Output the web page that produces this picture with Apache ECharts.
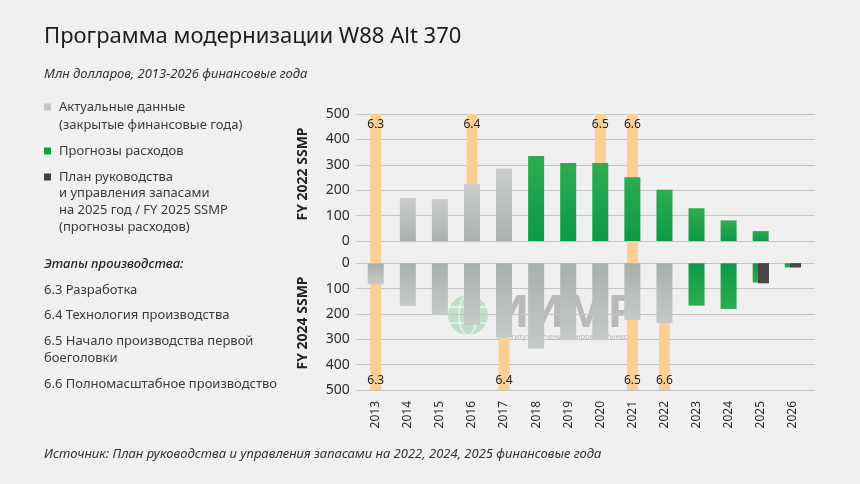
<!DOCTYPE html>
<html><head><meta charset="utf-8">
<script src="https://cdn.jsdelivr.net/npm/echarts@6/dist/echarts.min.js"></script>
<style>html,body{margin:0;padding:0;background:#f0f0f0}#c{width:860px;height:484px}</style>
</head><body><div id="c"></div>
<script>
// ---------- data ----------
const years = ['2013','2014','2015','2016','2017','2018','2019','2020','2021','2022','2023','2024','2025','2026'];
// FY 2022 SSMP (upper panel)
const fy22Actual   = [null,170,165,223,285,null,null,null,null,null,null,null,null,null];
const fy22Forecast = [null,null,null,null,null,335,307,307,251,202,129,81,39,null];
// FY 2024 SSMP (lower panel)
const fy24Actual   = [83,168,201,243,293,336,303,303,224,237,null,null,null,null];
const fy24Forecast = [null,null,null,null,null,null,null,null,null,null,167,180,76,16];
// FY 2025 SSMP (lower panel, dark)
const fy25Forecast = [null,null,null,null,null,null,null,null,null,null,null,null,79,16];
// production phases
const upperStages = ['6.3','','','6.4','','','','6.5','6.6','','','','',''];
const lowerStages = ['6.3','','','','6.4','','','','6.5','6.6','','','',''];
const yTicks = [0,100,200,300,400,500];
const yMax = 500;

// ---------- layout ----------
const FONT = '"Noto Sans", sans-serif';
const lineL = 356.7, lineR = 815;
const barL = 359.7, barR = 808.8;
const upTop = 114, upZero = 241, loZero = 263.3, loBot = 390;
const gapUnits = yMax * (loZero - upZero) / (upZero - upTop);
const ORANGE = '#fdcf93';
const grad = (a, b) => new echarts.graphic.LinearGradient(0, 0, 0, 1, [{offset:0,color:a},{offset:1,color:b}]);
const GRAY_UP = grad('#cacdcb', '#abb2ae');
const GRAY_LO = grad('#a8b0ac', '#c6cac7');
const GREEN_UP = grad('#2fac4f', '#0b9a46');
const GREEN_LO = grad('#0b9a46', '#2fac4f');

const chart = echarts.init(document.getElementById('c'));
const hiddenCat = (grid) => ({type:'category', gridIndex:grid, data:years, show:false, boundaryGap:true});
const yLabel = {color:'#2a2a2a', fontSize:14, fontFamily:FONT, margin:7, padding:[0,0,7,0]};

const g = [];
function txt(x, y, s, style) {
  g.push({type:'text', x, y, style:Object.assign({text:s, fill:'#3a3a3a', font:'13px '+FONT, textVerticalAlign:'middle'}, style||{})});
}
txt(44, 37, 'Программа модернизации W88 Alt 370', {fill:'#1c1c1c', font:'22px '+FONT});
txt(44, 74, 'Млн долларов, 2013-2026 финансовые года', {fill:'#333', font:'italic 13px '+FONT});
g.push({type:'rect', shape:{x:44,y:103.5,width:7,height:7}, style:{fill:'#c3c6c4'}});
g.push({type:'rect', shape:{x:44,y:147.5,width:7,height:7}, style:{fill:'#169c48'}});
g.push({type:'rect', shape:{x:44,y:173.5,width:7,height:7}, style:{fill:'#404040'}});
txt(59, 107, 'Актуальные данные');
txt(59, 125, '(закрытые финансовые года)');
txt(59, 151, 'Прогнозы расходов');
txt(59, 177, 'План руководства');
txt(59, 193, 'и управления запасами');
txt(59, 210, 'на 2025 год / FY 2025 SSMP');
txt(59, 227, '(прогнозы расходов)');
txt(44, 264, 'Этапы производства:', {fill:'#222', font:'italic 500 13px '+FONT});
txt(44, 290, '6.3 Разработка');
txt(44, 315, '6.4 Технология производства');
txt(44, 341, '6.5 Начало производства первой');
txt(44, 358, 'боеголовки');
txt(44, 384, '6.6 Полномасштабное производство');
txt(44, 454, 'Источник: План руководства и управления запасами на 2022, 2024, 2025 финансовые года', {fill:'#333', font:'italic 13px '+FONT});
// axis titles
g.push({type:'text', x:303, y:174, rotation:Math.PI/2, style:{text:'FY 2022 SSMP', fill:'#222', font:'bold 14px '+FONT, align:'center', verticalAlign:'middle'}});
g.push({type:'text', x:303, y:323, rotation:Math.PI/2, style:{text:'FY 2024 SSMP', fill:'#222', font:'bold 14px '+FONT, align:'center', verticalAlign:'middle'}});
// watermark
g.push({type:'group', z:100, children:[
  {type:'circle', shape:{cx:468, cy:315, r:20}, style:{fill:'rgba(60,180,100,0.28)'}},
  {type:'ellipse', shape:{cx:468, cy:315, rx:9, ry:20}, style:{fill:'none', stroke:'rgba(255,255,255,0.5)', lineWidth:2}},
  {type:'line', shape:{x1:449, y1:307, x2:487, y2:307}, style:{stroke:'rgba(255,255,255,0.5)', lineWidth:2}},
  {type:'line', shape:{x1:449, y1:323, x2:487, y2:323}, style:{stroke:'rgba(255,255,255,0.5)', lineWidth:2}},
  {type:'text', x:494, y:314, style:{text:'ИИМР', fill:'rgba(100,102,100,0.4)', font:'bold 45px '+FONT, textVerticalAlign:'middle'}},
  {type:'text', x:497, y:337, style:{text:'Институт Изучения Мировых Рынков', fill:'rgba(140,110,110,0.45)', font:'7.5px '+FONT, textVerticalAlign:'middle'}}
]});

const option = {
  backgroundColor:'#f0f0f0',
  animation:false,
  graphic: g,
  grid:[
    {left:lineL, width:lineR-lineL, top:upTop, height:upZero-upTop},
    {left:lineL, width:lineR-lineL, top:loZero, height:loBot-loZero},
    {left:barL, width:barR-barL, top:upTop, height:loZero-upTop},
    {left:barL, width:barR-barL, top:loZero, height:loBot-loZero},
    {left:barL+2.8, width:barR-barL, top:loZero, height:loBot-loZero}
  ],
  xAxis:[
    hiddenCat(0), hiddenCat(1), hiddenCat(2), hiddenCat(2),
    {type:'category', gridIndex:3, data:years, boundaryGap:true, axisLine:{show:false}, axisTick:{show:false},
      axisLabel:{rotate:90, margin:11, color:'#2a2a2a', fontSize:12, fontFamily:FONT, interval:0}},
    hiddenCat(3), hiddenCat(4)
  ],
  yAxis:[
    {type:'value', gridIndex:0, min:0, max:yMax, interval:100, axisLine:{show:false}, axisTick:{show:false},
      splitLine:{lineStyle:{color:'#c4c4c4', width:1}}, axisLabel:yLabel},
    {type:'value', gridIndex:1, min:0, max:yMax, interval:100, inverse:true, axisLine:{show:false}, axisTick:{show:false},
      splitLine:{lineStyle:{color:'#c4c4c4', width:1}}, axisLabel:yLabel},
    {type:'value', gridIndex:2, min:-gapUnits, max:yMax, show:false, splitLine:{show:false}},
    {type:'value', gridIndex:3, min:0, max:yMax, inverse:true, show:false, splitLine:{show:false}},
    {type:'value', gridIndex:4, min:0, max:yMax, inverse:true, show:false, splitLine:{show:false}}
  ],
  series:[
    {type:'bar', xAxisIndex:3, yAxisIndex:2, stack:'ph', barWidth:11, z:1,
      data: upperStages.map(s => s ? yMax : null), itemStyle:{color:ORANGE},
      label:{show:true, position:'insideTop', distance:5, color:'#222', fontSize:12, fontFamily:FONT,
        formatter:p => upperStages[p.dataIndex]}},
    {type:'bar', xAxisIndex:3, yAxisIndex:2, stack:'ph', barWidth:11, z:1,
      data: upperStages.map((s,i) => (s && lowerStages[i]) ? -gapUnits : null), itemStyle:{color:ORANGE}},
    {type:'bar', xAxisIndex:5, yAxisIndex:3, barWidth:11, z:1,
      data: lowerStages.map(s => s ? yMax : null), itemStyle:{color:ORANGE},
      label:{show:true, position:'insideBottom', distance:3, color:'#222', fontSize:12, fontFamily:FONT,
        formatter:p => lowerStages[p.dataIndex]}},
    {type:'bar', xAxisIndex:2, yAxisIndex:2, stack:'u', barWidth:16, z:2, data:fy22Actual, itemStyle:{color:GRAY_UP}},
    {type:'bar', xAxisIndex:2, yAxisIndex:2, stack:'u', barWidth:16, z:2, data:fy22Forecast, itemStyle:{color:GREEN_UP}},
    {type:'bar', xAxisIndex:4, yAxisIndex:3, stack:'l', barWidth:16, z:2, data:fy24Actual, itemStyle:{color:GRAY_LO}},
    {type:'bar', xAxisIndex:4, yAxisIndex:3, stack:'l', barWidth:16, z:2, data:fy24Forecast, itemStyle:{color:GREEN_LO}},
    {type:'bar', xAxisIndex:6, yAxisIndex:4, barWidth:11, z:3, data:fy25Forecast, itemStyle:{color:'#474747'}}
  ]
};
chart.setOption(option);
</script>
</body></html>
